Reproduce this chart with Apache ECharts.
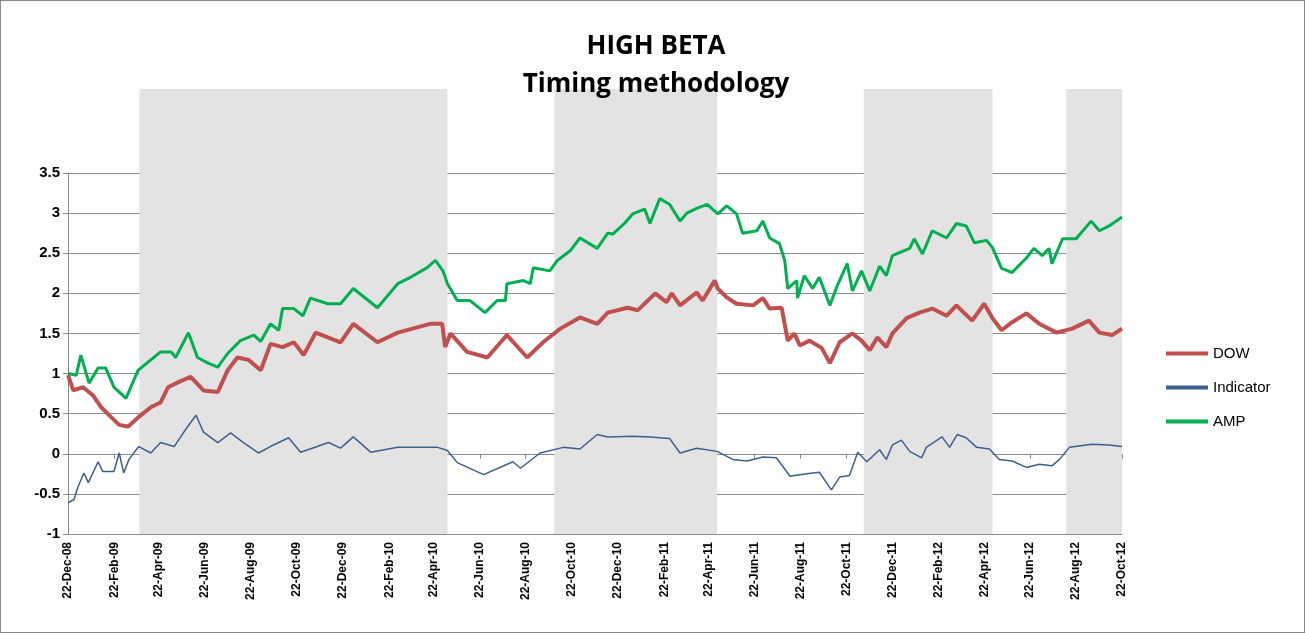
<!DOCTYPE html>
<html><head><meta charset="utf-8">
<script src="https://cdn.jsdelivr.net/npm/echarts@6/dist/echarts.min.js"></script>
<style>html,body{margin:0;padding:0;background:#fff}#c{width:1303px;height:631px;border:1px solid #888}</style>
</head><body><div id="c"></div>
<script>
// Days since 22-Dec-08 and values
const ampDays=[0,11,17,28,40,50,61,77,93,110,123,137,143,160,172,186,199,212,229,247,256,269,280,285,300,312,322,345,362,379,411,438,455,477,488,498,504,517,534,554,570,581,583,605,614,618,640,650,667,680,703,717,724,740,750,766,773,786,799,813,822,835,849,863,875,888,896,915,923,932,945,952,956,968,969,978,989,998,1012,1022,1035,1042,1054,1065,1078,1087,1095,1118,1124,1135,1148,1167,1180,1193,1204,1220,1228,1240,1254,1273,1283,1294,1303,1307,1321,1339,1359,1370,1383,1392,1400];
const ampVals=[1.0,0.98,1.23,0.88,1.07,1.07,0.83,0.69,1.04,1.17,1.27,1.27,1.2,1.51,1.2,1.13,1.08,1.25,1.41,1.48,1.4,1.62,1.54,1.81,1.81,1.72,1.94,1.87,1.87,2.06,1.82,2.12,2.2,2.32,2.41,2.28,2.12,1.91,1.91,1.76,1.91,1.91,2.12,2.16,2.12,2.32,2.28,2.41,2.53,2.69,2.56,2.75,2.74,2.88,2.99,3.05,2.87,3.18,3.11,2.9,3.0,3.06,3.11,2.99,3.09,2.99,2.75,2.78,2.9,2.69,2.62,2.41,2.06,2.16,1.94,2.22,2.06,2.2,1.85,2.1,2.37,2.03,2.28,2.03,2.34,2.22,2.47,2.56,2.68,2.49,2.78,2.69,2.87,2.84,2.63,2.66,2.57,2.31,2.26,2.44,2.56,2.47,2.56,2.37,2.68,2.68,2.9,2.78,2.84,2.9,2.95];
const dowDays=[0,7,20,33,44,57,68,80,94,110,123,133,146,163,180,199,212,225,240,256,269,285,300,313,329,345,362,379,411,438,481,497,501,508,530,557,583,610,631,654,680,703,717,743,757,780,795,802,813,835,843,859,863,875,888,910,923,932,948,956,965,972,985,1001,1012,1025,1042,1054,1065,1075,1087,1095,1114,1131,1148,1167,1180,1201,1217,1228,1240,1254,1273,1290,1313,1334,1356,1370,1387,1400];
const dowVals=[0.98,0.79,0.83,0.73,0.58,0.46,0.36,0.34,0.46,0.58,0.64,0.83,0.89,0.96,0.79,0.77,1.04,1.2,1.17,1.04,1.37,1.33,1.39,1.23,1.51,1.45,1.39,1.62,1.39,1.51,1.62,1.62,1.33,1.5,1.27,1.2,1.48,1.2,1.39,1.56,1.7,1.62,1.76,1.82,1.79,2.0,1.89,2.0,1.85,2.01,1.91,2.16,2.06,1.95,1.87,1.85,1.94,1.81,1.82,1.41,1.5,1.35,1.41,1.32,1.13,1.39,1.5,1.41,1.29,1.45,1.33,1.5,1.69,1.76,1.81,1.72,1.85,1.66,1.87,1.69,1.54,1.64,1.75,1.62,1.51,1.56,1.66,1.51,1.48,1.56];
const indDays=[0,8,13,21,27,40,46,61,68,74,81,94,110,123,141,156,170,180,199,216,233,253,273,293,309,331,346,362,379,402,438,491,504,517,552,591,601,627,658,680,703,717,750,773,799,813,835,862,883,902,923,941,959,981,998,1014,1025,1038,1049,1061,1078,1087,1095,1107,1118,1134,1140,1161,1171,1181,1193,1207,1224,1237,1254,1273,1290,1307,1317,1330,1360,1383,1400];
const indVals=[-0.61,-0.57,-0.42,-0.24,-0.36,-0.1,-0.22,-0.22,0.01,-0.24,-0.07,0.09,0.01,0.14,0.09,0.3,0.48,0.27,0.14,0.26,0.14,0.01,0.11,0.2,0.02,0.09,0.14,0.07,0.21,0.02,0.08,0.08,0.04,-0.11,-0.26,-0.1,-0.18,0.01,0.08,0.06,0.24,0.21,0.22,0.21,0.19,0.01,0.07,0.03,-0.07,-0.09,-0.04,-0.05,-0.28,-0.25,-0.23,-0.45,-0.29,-0.27,0.02,-0.1,0.05,-0.07,0.11,0.17,0.03,-0.05,0.08,0.21,0.08,0.24,0.2,0.08,0.06,-0.07,-0.09,-0.17,-0.13,-0.15,-0.07,0.08,0.12,0.11,0.09];
const shadeRanges=[[95,504],[646,862],[1057,1228],[1326,1400]];
const tickDays=[0,62,121,182,243,304,365,427,486,547,608,669,730,792,851,912,973,1034,1095,1157,1217,1278,1339,1400];
const tickLabels=['22-Dec-08','22-Feb-09','22-Apr-09','22-Jun-09','22-Aug-09','22-Oct-09','22-Dec-09','22-Feb-10','22-Apr-10','22-Jun-10','22-Aug-10','22-Oct-10','22-Dec-10','22-Feb-11','22-Apr-11','22-Jun-11','22-Aug-11','22-Oct-11','22-Dec-11','22-Feb-12','22-Apr-12','22-Jun-12','22-Aug-12','22-Oct-12'];

const pair=(d,v)=>d.map((x,i)=>[x,v[i]]);
const font='"Liberation Sans", Arial, sans-serif';
const chart=echarts.init(document.getElementById('c'));
chart.setOption({
  animation:false,
  title:{text:'HIGH BETA\nTiming methodology',left:650,textAlign:'center',top:22,
    textStyle:{fontFamily:'"Open Sans", sans-serif',fontWeight:'bold',fontSize:26,lineHeight:38,color:'#000'}},
  legend:{orient:'vertical',left:1160,top:340,itemGap:19,itemWidth:42,itemHeight:4,icon:'rect',
    textStyle:{fontFamily:font,fontSize:15,color:'#000'},data:['DOW','Indicator','AMP']},
  grid:[{left:67,right:182,top:172,bottom:98},{left:67,right:182,top:88,bottom:98}],
  xAxis:[
    {type:'value',gridIndex:0,min:0,max:1400,axisLine:{onZero:true,lineStyle:{color:'#888'}},
     axisTick:{show:true,customValues:tickDays,length:5,lineStyle:{color:'#888'}},
     axisLabel:{show:false},splitLine:{show:false}},
    {type:'value',gridIndex:0,min:0,max:1400,position:'bottom',axisLine:{show:false,onZero:false},axisTick:{show:false},
     splitLine:{show:false},
     axisLabel:{customValues:tickDays,rotate:90,fontSize:12,fontWeight:'bold',fontFamily:font,color:'#000',margin:8,
       formatter:v=>tickLabels[tickDays.indexOf(v)]||''}},
    {type:'value',gridIndex:1,min:0,max:1400,show:false}
  ],
  yAxis:[
    {type:'value',gridIndex:0,min:-1,max:3.5,interval:0.5,z:1,
    axisLine:{show:true,onZero:false,lineStyle:{color:'#888'}},axisTick:{show:true,lineStyle:{color:'#888'}},
    axisLabel:{fontSize:15,fontWeight:'bold',fontFamily:font,color:'#000',formatter:v=>String(v)},
    splitLine:{lineStyle:{color:'#8c8c8c',width:1}}},
    {type:'value',gridIndex:1,min:0,max:1,show:false}
  ],
  series:[
    {type:'line',name:'shade',xAxisIndex:2,yAxisIndex:1,data:[],z:0,silent:true,
     markArea:{silent:true,itemStyle:{color:'#e3e3e3'},data:shadeRanges.map(r=>[{xAxis:r[0]},{xAxis:r[1]}])}},
    {type:'line',name:'DOW',data:pair(dowDays,dowVals),symbol:'none',z:3,lineStyle:{color:'#c0504d',width:4},itemStyle:{color:'#c0504d'}},
    {type:'line',name:'Indicator',data:pair(indDays,indVals),symbol:'none',z:3,lineStyle:{color:'#3e5f8e',width:1.5},itemStyle:{color:'#3e5f8e'}},
    {type:'line',name:'AMP',data:pair(ampDays,ampVals),symbol:'none',z:3,lineStyle:{color:'#00b050',width:3},itemStyle:{color:'#00b050'}}
  ]
});
</script></body></html>
